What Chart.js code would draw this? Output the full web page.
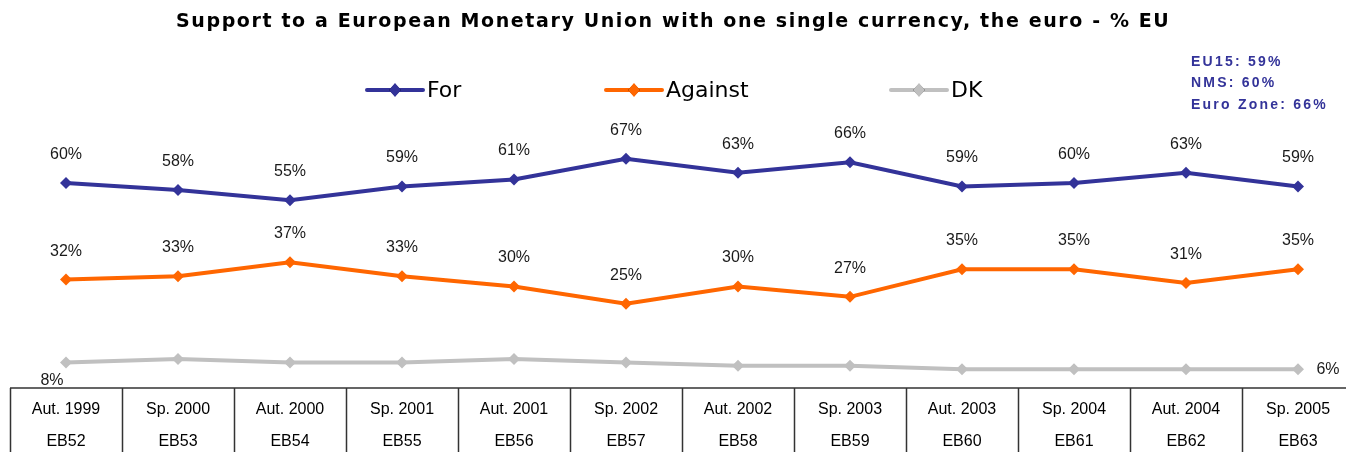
<!DOCTYPE html>
<html><head><meta charset="utf-8">
<script src="https://cdn.jsdelivr.net/npm/chart.js@4"></script>
<style>html,body{margin:0;padding:0;overflow:hidden;background:#fff}#wrap{width:1360px;height:452px}</style>
</head><body><div id="wrap"><canvas id="c" width="1360" height="452"></canvas></div>
<script>
const periods = ['Aut. 1999','Sp. 2000','Aut. 2000','Sp. 2001','Aut. 2001','Sp. 2002','Aut. 2002','Sp. 2003','Aut. 2003','Sp. 2004','Aut. 2004','Sp. 2005'];
const waves = ['EB52','EB53','EB54','EB55','EB56','EB57','EB58','EB59','EB60','EB61','EB62','EB63'];
const forValues = [60,58,55,59,61,67,63,66,59,60,63,59];
const againstValues = [32,33,37,33,30,25,30,27,35,35,31,35];
const dkValues = [8,9,8,8,9,8,7,7,6,6,6,6];
const seriesNames = ['For','Against','DK'];
const titleText = 'Support to a European Monetary Union with one single currency, the euro - % EU';
const infoLines = ['EU15: 59%','NMS: 60%','Euro Zone: 66%'];

const COLORS = ['#333399','#FF6600','#C0C0C0'];

function spacedText(ctx, text, x, y, font, color, targetWidth) {
  ctx.save();
  ctx.font = font;
  ctx.letterSpacing = '0px';
  const w0 = ctx.measureText(text).width;
  const n = text.length;
  const s = Math.max(0, (targetWidth - w0) / n);
  ctx.letterSpacing = s.toFixed(2) + 'px';
  ctx.fillStyle = color;
  ctx.textAlign = 'left';
  ctx.textBaseline = 'middle';
  ctx.fillText(text, x, y);
  ctx.restore();
  return s;
}

const decorPlugin = {
  id: 'decor',
  afterDraw(chart) {
    const ctx = chart.ctx;
    const area = chart.chartArea;
    const xs = chart.scales.x;
    // title
    spacedText(ctx, titleText, 176, 22, 'bold 19px "DejaVu Sans"', '#000', 994);
    // info box
    ctx.save();
    ctx.font = 'bold 14px "Liberation Sans"';
    ctx.letterSpacing = '0px';
    const wEuro = ctx.measureText(infoLines[2]).width;
    const sp = (137 - wEuro) / infoLines[2].length;
    ctx.restore();
    const infoY = [62, 83.5, 105];
    infoLines.forEach((t, i) => {
      ctx.save();
      ctx.font = 'bold 14px "Liberation Sans"';
      ctx.letterSpacing = sp.toFixed(2) + 'px';
      ctx.fillStyle = '#333399';
      ctx.textBaseline = 'middle';
      ctx.fillText(t, 1191, infoY[i]);
      ctx.restore();
    });
    // legend
    const legendX = [367, 606, 891];
    chart.data.datasets.forEach((ds, i) => {
      const x1 = legendX[i], x2 = x1 + 56, y = 90;
      ctx.save();
      ctx.strokeStyle = ds.borderColor;
      ctx.lineWidth = 4;
      ctx.lineCap = 'round';
      ctx.beginPath(); ctx.moveTo(x1, y); ctx.lineTo(x2, y); ctx.stroke();
      Chart.helpers.drawPoint(ctx, {pointStyle: 'rectRot', radius: 6, borderWidth: 0, rotation: 0}, (x1 + x2) / 2, y);
      ctx.fillStyle = ds.borderColor;
      ctx.beginPath();
      const cx = (x1 + x2) / 2;
      ctx.moveTo(cx, y - 7); ctx.lineTo(cx + 6, y); ctx.lineTo(cx, y + 7); ctx.lineTo(cx - 6, y); ctx.closePath(); ctx.fill();
      ctx.font = '22px "DejaVu Sans"';
      ctx.fillStyle = '#000';
      ctx.textBaseline = 'middle';
      ctx.fillText(ds.label, x2 + 4, y + 1);
      ctx.restore();
    });
    // category table
    const n = chart.data.labels.length;
    const top = area.bottom - 2;
    const bottom = chart.height;
    ctx.save();
    ctx.strokeStyle = '#333';
    ctx.lineWidth = 1.5;
    ctx.beginPath();
    ctx.moveTo(area.left, top); ctx.lineTo(area.right, top);
    const bounds = [area.left];
    for (let i = 0; i < n - 1; i++) bounds.push((xs.getPixelForValue(i) + xs.getPixelForValue(i + 1)) / 2);
    bounds.push(area.right);
    bounds.forEach(bx => { const x = Math.round(bx) + 0.5; ctx.moveTo(x, top); ctx.lineTo(x, bottom); });
    ctx.stroke();
    ctx.restore();
  },
  afterDatasetsDraw(chart) {
    const ctx = chart.ctx;
    ctx.save();
    ctx.font = '16px "Liberation Sans"';
    ctx.fillStyle = '#1a1a1a';
    ctx.textAlign = 'center';
    ctx.textBaseline = 'middle';
    chart.data.datasets.forEach((ds, di) => {
      const meta = chart.getDatasetMeta(di);
      meta.data.forEach((pt, i) => {
        const txt = ds.data[i] + '%';
        if (di < 2) {
          ctx.fillText(txt, pt.x, pt.y - 28.5);
        } else if (i === 0) {
          ctx.fillText(txt, pt.x - 14, pt.y + 18);
        } else if (i === ds.data.length - 1) {
          ctx.fillText(txt, pt.x + 30, pt.y);
        }
      });
    });
    ctx.restore();
  }
};

function mkDataset(label, data, color) {
  return {
    label, data,
    borderColor: color, backgroundColor: color,
    pointBackgroundColor: color, pointBorderColor: color,
    borderWidth: 4, tension: 0,
    pointStyle: 'rectRot', pointRadius: 6, pointBorderWidth: 0, pointHoverRadius: 6
  };
}

new Chart(document.getElementById('c'), {
  type: 'line',
  data: {
    labels: periods,
    datasets: [
      mkDataset(seriesNames[0], forValues, COLORS[0]),
      mkDataset(seriesNames[1], againstValues, COLORS[1]),
      mkDataset(seriesNames[2], dkValues, COLORS[2])
    ]
  },
  options: {
    responsive: false,
    animation: false,
    devicePixelRatio: 1,
    layout: { padding: { top: 45, left: 10, right: 6, bottom: 0 } },
    plugins: { legend: { display: false }, title: { display: false }, tooltip: { enabled: false } },
    scales: {
      x: {
        type: 'category',
        offset: true,
        grid: { display: false, drawTicks: false },
        border: { display: false },
        ticks: {
          autoSkip: false, maxRotation: 0, minRotation: 0, padding: 4,
          color: '#000',
          font: { family: '"Liberation Sans"', size: 16, lineHeight: '32px' },
          callback: (v, i) => [periods[i], waves[i]]
        },
        afterFit: (s) => { s.height = 62; }
      },
      y: { display: false, min: 0, max: 100 }
    }
  },
  plugins: [decorPlugin]
});
</script>
</body></html>
